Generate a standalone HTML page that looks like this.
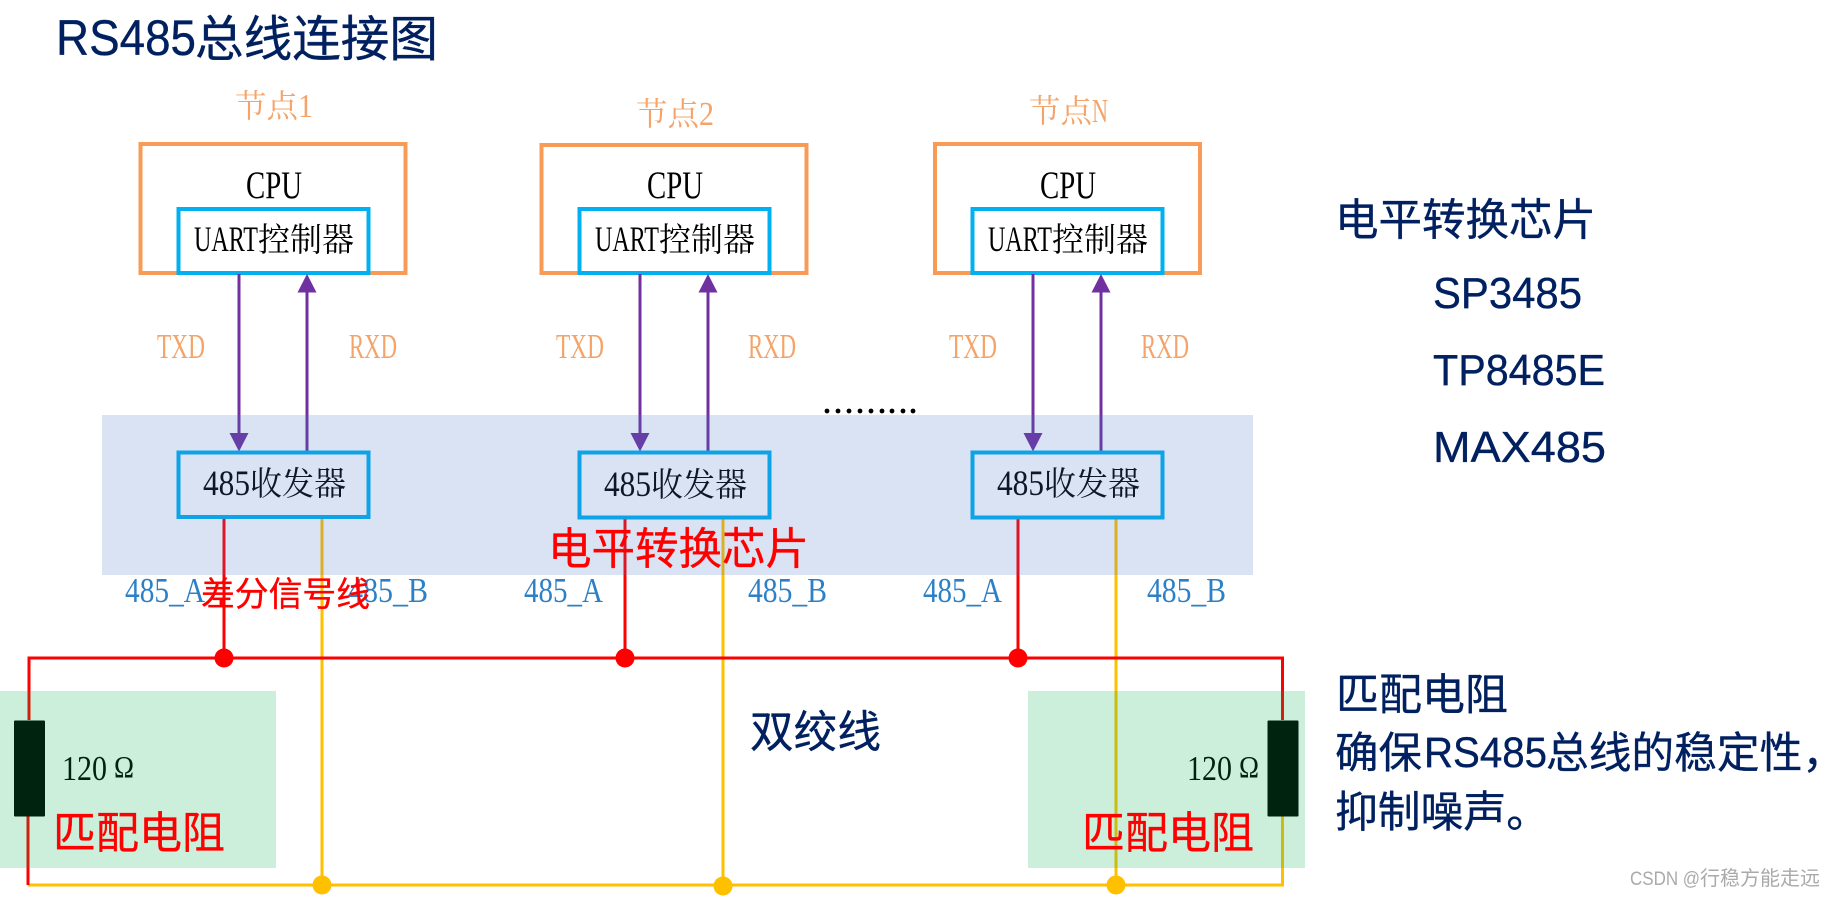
<!DOCTYPE html>
<html lang="zh"><head><meta charset="utf-8"><title>RS485总线连接图</title>
<style>
html,body{margin:0;padding:0;background:#fff;width:1836px;height:898px;overflow:hidden}
svg{display:block}
.s{font-family:"Liberation Serif",serif}
.n{font-family:"Liberation Serif","Noto Serif CJK SC",serif}
.a{font-family:"Liberation Sans",sans-serif}
.c{font-family:"Liberation Sans","Noto Sans CJK SC",sans-serif}
.navy{fill:#002060;stroke:#002060;stroke-width:.35}
.or{fill:#f4a46a}
.bl{fill:#2e80c6}
.red{fill:#ff0000;stroke:#ff0000;stroke-width:.35}
</style></head><body>
<svg width="1836" height="898" viewBox="0 0 1836 898" xmlns="http://www.w3.org/2000/svg">
<rect width="1836" height="898" fill="#fff"/>

<!-- Title -->
<text class="a navy" x="56" y="55" font-size="50" textLength="140" lengthAdjust="spacingAndGlyphs">RS485</text>
<text class="c navy" x="195" y="56" font-size="49" textLength="243" lengthAdjust="spacingAndGlyphs">总线连接图</text>

<!-- Node labels -->
<text class="n or" x="235" y="117" font-size="32" textLength="63" lengthAdjust="spacingAndGlyphs">节点</text>
<text class="s or" x="298" y="117" font-size="34" textLength="15" lengthAdjust="spacingAndGlyphs">1</text>
<text class="n or" x="636" y="125" font-size="32" textLength="63" lengthAdjust="spacingAndGlyphs">节点</text>
<text class="s or" x="699" y="125" font-size="34" textLength="15" lengthAdjust="spacingAndGlyphs">2</text>
<text class="n or" x="1029" y="122" font-size="32" textLength="63" lengthAdjust="spacingAndGlyphs">节点</text>
<text class="s or" x="1092" y="122" font-size="34" textLength="16" lengthAdjust="spacingAndGlyphs">N</text>

<!-- CPU outer boxes -->
<g fill="none" stroke="#f79b56" stroke-width="4">
<rect x="140.5" y="144" width="265" height="129"/>
<rect x="541.5" y="145" width="265" height="128"/>
<rect x="935" y="144" width="265" height="129"/>
</g>
<g class="s" font-size="39" fill="#000">
<text x="246" y="198" textLength="56" lengthAdjust="spacingAndGlyphs">CPU</text>
<text x="647" y="198" textLength="56" lengthAdjust="spacingAndGlyphs">CPU</text>
<text x="1040" y="198" textLength="56" lengthAdjust="spacingAndGlyphs">CPU</text>
</g>

<!-- UART boxes -->
<g fill="#fff" stroke="#00b0f0" stroke-width="4">
<rect x="178.5" y="209" width="190" height="64"/>
<rect x="579.5" y="209" width="190" height="64"/>
<rect x="972.5" y="209" width="190" height="64"/>
</g>
<g font-size="33" fill="#000">
<text class="s" x="194" y="251" font-size="36" textLength="64" lengthAdjust="spacingAndGlyphs">UART</text>
<text class="n" x="258" y="251" textLength="96" lengthAdjust="spacingAndGlyphs">控制器</text>
<text class="s" x="595" y="251" font-size="36" textLength="64" lengthAdjust="spacingAndGlyphs">UART</text>
<text class="n" x="659" y="251" textLength="96" lengthAdjust="spacingAndGlyphs">控制器</text>
<text class="s" x="988" y="251" font-size="36" textLength="64" lengthAdjust="spacingAndGlyphs">UART</text>
<text class="n" x="1052" y="251" textLength="96" lengthAdjust="spacingAndGlyphs">控制器</text>
</g>

<!-- TXD / RXD labels -->
<g class="s or" font-size="35">
<text x="157" y="358" textLength="48" lengthAdjust="spacingAndGlyphs">TXD</text>
<text x="349" y="358" textLength="48" lengthAdjust="spacingAndGlyphs">RXD</text>
<text x="556" y="358" textLength="48" lengthAdjust="spacingAndGlyphs">TXD</text>
<text x="748" y="358" textLength="48" lengthAdjust="spacingAndGlyphs">RXD</text>
<text x="949" y="358" textLength="48" lengthAdjust="spacingAndGlyphs">TXD</text>
<text x="1141" y="358" textLength="48" lengthAdjust="spacingAndGlyphs">RXD</text>
</g>

<!-- Purple arrows -->
<g stroke="#7030a0" stroke-width="3" fill="none">
<path d="M239 274V436M307 290V452M640 274V436M708 290V452M1033 274V436M1101 290V452"/>
</g>
<g fill="#7030a0">
<path d="M229.500 433h19l-9.500 18.500zM297.500 292.500h19l-9.500-18.500zM630.500 433h19l-9.500 18.500zM698.500 292.500h19l-9.500-18.500zM1023.500 433h19l-9.500 18.500zM1091.500 292.500h19l-9.500-18.500z"/>
</g>

<!-- dots -->
<g fill="#000">
<circle cx="827" cy="411" r="2.4"/><circle cx="838" cy="411" r="2.4"/><circle cx="849" cy="411" r="2.4"/><circle cx="860" cy="411" r="2.4"/><circle cx="871" cy="411" r="2.4"/><circle cx="882" cy="411" r="2.4"/><circle cx="892" cy="411" r="2.4"/><circle cx="903" cy="411" r="2.4"/><circle cx="913" cy="411" r="2.4"/>
</g>

<!-- Bus wires -->
<g fill="none" stroke="#ffc000" stroke-width="3">
<path d="M322 517V885M723 517V885M1116 517V885"/>
<path d="M28 885H1282.500V815"/>
</g>
<g fill="none" stroke="#ff0000" stroke-width="3">
<path d="M224 517V658M625 517V658M1018 517V658"/>
<path d="M29 720V658H1282.500V720"/>
<path d="M28 815V885"/>
</g>
<g fill="#ff0000"><circle cx="224" cy="658" r="9.500"/><circle cx="625" cy="658" r="9.500"/><circle cx="1018" cy="658" r="9.500"/></g>
<g fill="#ffc000"><circle cx="322" cy="885" r="9.500"/><circle cx="723" cy="886" r="9.500"/><circle cx="1116" cy="885" r="9.500"/></g>

<!-- Transceiver boxes -->
<g fill="none" stroke="#00b0f0" stroke-width="4">
<rect x="178.500" y="452.500" width="190" height="64.500"/>
<rect x="579.500" y="452.500" width="190" height="65"/>
<rect x="972.500" y="452.500" width="190" height="65"/>
</g>
<g font-size="33" fill="#000">
<text class="s" x="203" y="495" font-size="36" textLength="47" lengthAdjust="spacingAndGlyphs">485</text>
<text class="n" x="250" y="495" textLength="96" lengthAdjust="spacingAndGlyphs">收发器</text>
<text class="s" x="604" y="496" font-size="36" textLength="47" lengthAdjust="spacingAndGlyphs">485</text>
<text class="n" x="651" y="496" textLength="96" lengthAdjust="spacingAndGlyphs">收发器</text>
<text class="s" x="997" y="495" font-size="36" textLength="47" lengthAdjust="spacingAndGlyphs">485</text>
<text class="n" x="1044" y="495" textLength="96" lengthAdjust="spacingAndGlyphs">收发器</text>
</g>

<!-- Resistors + values -->
<rect x="14" y="720.500" width="31" height="96" fill="#000" rx="1"/>
<rect x="1267.500" y="720.500" width="31" height="96" fill="#000" rx="1"/>
<g class="s" fill="#000">
<text x="62" y="780" font-size="35" textLength="45" lengthAdjust="spacingAndGlyphs">120</text>
<text x="114" y="777" font-size="31" textLength="20" lengthAdjust="spacingAndGlyphs">Ω</text>
<text x="1187" y="780" font-size="35" textLength="45" lengthAdjust="spacingAndGlyphs">120</text>
<text x="1239" y="777" font-size="31" textLength="20" lengthAdjust="spacingAndGlyphs">Ω</text>
</g>

<!-- Translucent overlays -->
<rect x="102" y="415" width="1151" height="160" fill="#4472c4" opacity="0.2"/>
<rect x="0" y="691" width="276" height="177" fill="#00b050" opacity="0.2"/>
<rect x="1028" y="691" width="277" height="177" fill="#00b050" opacity="0.2"/>

<!-- 485_A / 485_B -->
<g class="s bl" font-size="35">
<text x="125" y="602" textLength="80" lengthAdjust="spacingAndGlyphs">485_A</text>
<text x="348" y="602" textLength="80" lengthAdjust="spacingAndGlyphs">485_B</text>
<text x="524" y="602" textLength="79" lengthAdjust="spacingAndGlyphs">485_A</text>
<text x="748" y="602" textLength="79" lengthAdjust="spacingAndGlyphs">485_B</text>
<text x="923" y="602" textLength="79" lengthAdjust="spacingAndGlyphs">485_A</text>
<text x="1147" y="602" textLength="79" lengthAdjust="spacingAndGlyphs">485_B</text>
</g>

<!-- Red labels -->
<g class="c red">
<text x="201" y="606" font-size="34" textLength="169" lengthAdjust="spacingAndGlyphs">差分信号线</text>
<text x="548" y="564" font-size="44" textLength="261" lengthAdjust="spacingAndGlyphs">电平转换芯片</text>
<text x="53" y="848" font-size="44" textLength="172" lengthAdjust="spacingAndGlyphs">匹配电阻</text>
<text x="1082" y="848" font-size="44" textLength="172" lengthAdjust="spacingAndGlyphs">匹配电阻</text>
</g>

<!-- Navy text -->
<text class="c navy" x="750" y="747" font-size="44" textLength="131" lengthAdjust="spacingAndGlyphs">双绞线</text>
<text class="c navy" x="1335" y="235" font-size="44" textLength="261" lengthAdjust="spacingAndGlyphs">电平转换芯片</text>
<text class="a navy" x="1433" y="308" font-size="44" textLength="149" lengthAdjust="spacingAndGlyphs">SP3485</text>
<text class="a navy" x="1433" y="385" font-size="44" textLength="172" lengthAdjust="spacingAndGlyphs">TP8485E</text>
<text class="a navy" x="1433" y="462" font-size="44" textLength="173" lengthAdjust="spacingAndGlyphs">MAX485</text>
<text class="c navy" x="1336" y="710" font-size="43.500" textLength="172" lengthAdjust="spacingAndGlyphs">匹配电阻</text>
<text class="c navy" x="1335" y="768" font-size="43" textLength="87" lengthAdjust="spacingAndGlyphs">确保</text>
<text class="a navy" x="1424" y="767" font-size="43" textLength="123" lengthAdjust="spacingAndGlyphs">RS485</text>
<text class="c navy" x="1546" y="768" font-size="43" textLength="299" lengthAdjust="spacingAndGlyphs">总线的稳定性，</text>
<text class="c navy" x="1335" y="827" font-size="43" textLength="214" lengthAdjust="spacingAndGlyphs">抑制噪声。</text>

<!-- Watermark -->
<text class="a" x="1630" y="885" font-size="19" fill="#aaaaaa" textLength="70" lengthAdjust="spacingAndGlyphs">CSDN @</text>
<text class="c" x="1700" y="885" font-size="20" fill="#aaaaaa" textLength="120" lengthAdjust="spacingAndGlyphs">行稳方能走远</text>
</svg>
</body></html>
